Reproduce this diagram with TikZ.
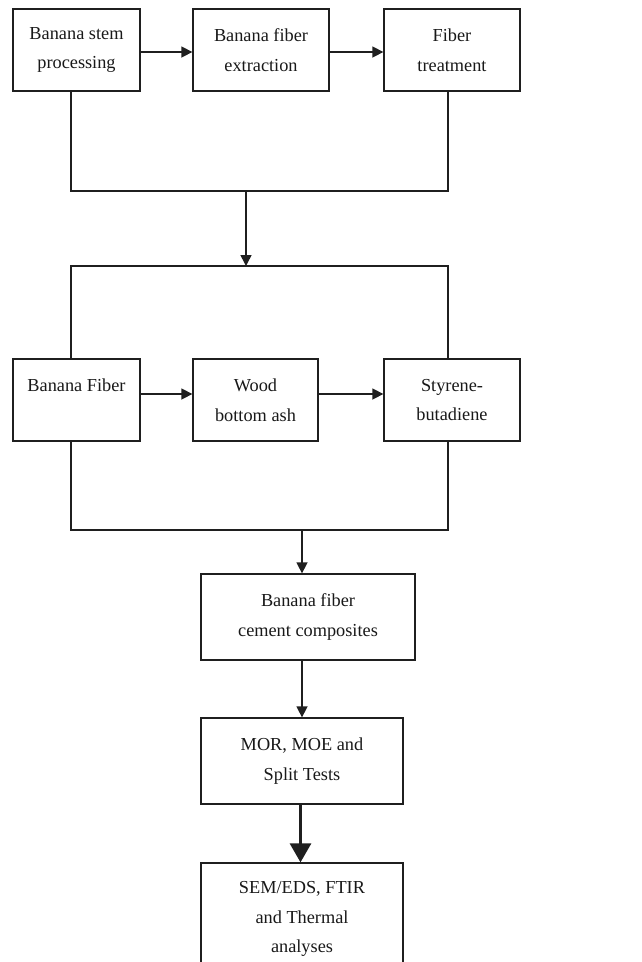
\documentclass[tikz,border=0pt]{standalone}
\usepackage{fontspec}
\setmainfont{Liberation Serif}
\usetikzlibrary{arrows.meta}
\begin{document}
\begin{tikzpicture}[x=1pt,y=-1pt,
  box/.style={draw=black!88, line width=1.3pt, align=center, inner sep=0pt,
    font=\fontsize{18.3pt}{29.5pt}\selectfont, text=black!90},
  ln/.style={draw=black!88, line width=1.3pt},
  arr/.style={ln, line width=1.5pt, -{Triangle[length=11pt,width=11pt]}},
  bigarr/.style={ln, line width=3pt, -{Triangle[length=19pt,width=21pt]}}]
\clip (0,0) rectangle (641,962);
\fill[white] (0,0) rectangle (641,962);
% top row
\node[box, minimum width=127pt, minimum height=82pt] (b1) at (76.5,50) {Banana stem\\processing};
\node[box, minimum width=136pt, minimum height=82pt] (b2) at (261,50) {Banana fiber\\extraction};
\node[box, minimum width=136pt, minimum height=82pt] (b3) at (452,50) {Fiber\\treatment};
% middle row
\node[box, minimum width=127pt, minimum height=82pt] (b4) at (76.5,400) {Banana Fiber\\\mbox{}};
\node[box, minimum width=125pt, minimum height=82pt] (b5) at (255.5,400) {Wood\\bottom ash};
\node[box, minimum width=136pt, minimum height=82pt] (b6) at (452,400) {Styrene-\\butadiene};
% lower column
\node[box, minimum width=214pt, minimum height=86pt] (b7) at (308,617) {Banana fiber\\cement composites};
\node[box, minimum width=202pt, minimum height=86pt] (b8) at (302,761) {MOR, MOE and\\Split Tests};
\node[box, minimum width=202pt, minimum height=112pt] (b9) at (302,919) {SEM/EDS, FTIR\\and Thermal\\analyses};
% junctions
\coordinate (j1) at (246,191);
\coordinate (j2) at (246,266);
\coordinate (j3) at (302,530);
% horizontal arrows
\draw[arr] ([yshift=-2pt]b1.east) -- ([yshift=-2pt]b2.west);
\draw[arr] ([yshift=-2pt]b2.east) -- ([yshift=-2pt]b3.west);
\draw[arr] ([yshift=6pt]b4.east) -- ([yshift=6pt]b5.west);
\draw[arr] ([yshift=6pt]b5.east) -- ([yshift=6pt]b6.west);
% top bracket
\draw[ln] ([xshift=-5.5pt]b1.south) |- (j1) -| ([xshift=-4pt]b3.south);
\draw[arr] (j1) -- (j2);
% middle bracket
\draw[ln] ([xshift=-5.5pt]b4.north) |- (j2) -| ([xshift=-4pt]b6.north);
% bottom bracket
\draw[ln] ([xshift=-5.5pt]b4.south) |- (j3) -| ([xshift=-4pt]b6.south);
\draw[arr] (j3) -- (j3 |- b7.north);
\draw[arr] (j3 |- b7.south) -- (b8.north);
\draw[bigarr] ([xshift=-1.5pt]b8.south) -- ([xshift=-1.5pt]b9.north);
\end{tikzpicture}
\end{document}
